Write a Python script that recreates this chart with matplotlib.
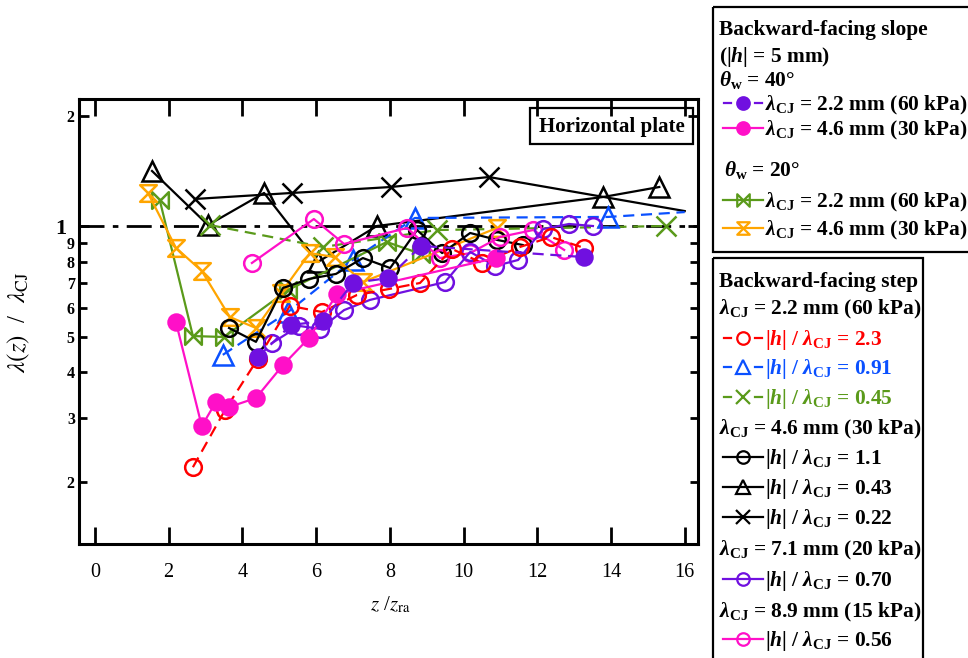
import numpy as np
import matplotlib.pyplot as plt
from matplotlib.path import Path
from matplotlib.patches import Rectangle

plt.rcParams['font.family'] = 'Liberation Serif'
plt.rcParams['mathtext.fontset'] = 'custom'
plt.rcParams['mathtext.rm'] = 'Liberation Serif:bold'
plt.rcParams['mathtext.it'] = 'Liberation Serif:italic:bold'
plt.rcParams['mathtext.bf'] = 'Liberation Serif:bold'

W, H = 968, 658

# --- backward-facing step, lambda_CJ = 2.2 mm (60 kPa) ---
s23_x = [2.66, 3.53, 4.42, 5.29, 6.16, 7.11, 7.98, 8.82, 9.69, 10.50, 11.53, 12.37, 13.27]
s23_y = [0.220, 0.315, 0.435, 0.607, 0.584, 0.650, 0.675, 0.701, 0.868, 0.795, 0.879, 0.936, 0.874]
s091_x = [3.47, 5.24, 7.00, 8.68, 13.92, 16.0]
s091_y = [0.446, 0.584, 0.810, 1.055, 1.062, 1.095]
s045_x = [3.12, 6.19, 9.28, 15.50]
s045_y = [1.009, 0.879, 0.978, 1.003]
# --- lambda_CJ = 4.6 mm (30 kPa) ---
s11_x = [3.64, 4.37, 5.10, 5.81, 6.54, 7.27, 8.01, 8.74, 9.42, 10.18, 10.91, 11.61]
s11_y = [0.528, 0.484, 0.679, 0.719, 0.742, 0.820, 0.770, 0.978, 0.846, 0.960, 0.919, 0.890]
s043_x = [1.55, 3.07, 4.59, 6.05, 7.65, 13.79, 15.31]
s043_y = [1.418, 1.009, 1.235, 0.800, 1.003, 1.204, 1.282]
s022_x = [2.71, 5.35, 8.03, 10.69, 16.0]
s022_y = [1.189, 1.235, 1.282, 1.365, 1.102]
# --- lambda_CJ = 7.1 mm (20 kPa) ---
s070_x = [4.80, 5.54, 6.11, 6.76, 7.46, 9.50, 10.18, 10.86, 11.48, 12.16, 12.86, 13.51]
s070_y = [0.480, 0.535, 0.525, 0.591, 0.630, 0.705, 0.852, 0.780, 0.810, 0.984, 1.016, 1.003]
# --- lambda_CJ = 8.9 mm (15 kPa) ---
s056_x = [4.26, 5.94, 6.76, 8.47, 9.36, 10.18, 10.99, 11.89, 12.73]
s056_y = [0.795, 1.048, 0.896, 0.991, 0.820, 0.846, 0.936, 0.978, 0.863]

# --- backward-facing slope, |h| = 5 mm ---
p40a_x = [4.42, 5.32, 6.19, 7.00, 7.95, 8.85, 13.27]
p40a_y = [0.440, 0.538, 0.552, 0.701, 0.723, 0.885, 0.825]
p40b_x = [2.20, 2.90, 3.28, 3.64, 4.37, 5.10, 5.81, 6.57, 10.88]
p40b_y = [0.548, 0.285, 0.331, 0.321, 0.340, 0.418, 0.496, 0.654, 0.820]
p20a_x = [1.76, 2.66, 3.50, 5.24, 7.92, 8.85]
p20a_y = [1.181, 0.502, 0.499, 0.671, 0.907, 0.841]
p20b_x = [1.44, 2.20, 2.90, 3.66, 4.37, 5.05, 5.83, 6.51, 7.27, 10.91]
p20b_y = [1.235, 0.874, 0.756, 0.566, 0.528, 0.658, 0.846, 0.825, 0.705, 0.991]

RED = '#ff0000'
BLUE = '#0a50ff'
GREEN = '#5a9a1a'
ORANGE = '#ffa500'
PURPLE = '#7010e0'
MAGENTA = '#ff10c8'

bowtie = Path([(-1, -1), (0, 0), (-1, 1), (-1, -1), (1, -1), (0, 0), (1, 1), (1, -1)],
              [1, 2, 2, 79, 1, 2, 2, 79])
hourglass = Path([(-1, 1), (1, 1), (0, 0), (-1, 1), (-1, -1), (1, -1), (0, 0), (-1, -1)],
                 [1, 2, 2, 79, 1, 2, 2, 79])
DASH = (0, (5, 3))

fig = plt.figure(figsize=(W / 100, H / 100), dpi=100)
ax = fig.add_axes([79 / W, 1 - 544 / H, 619 / W, 445 / H])


def series(x, y, color, marker, ls='-', filled=False, ms=12, skip_last=False):
    n = len(x)
    every = list(range(n - 1)) if skip_last else None
    ax.plot(x, y, color=color, lw=1.6, ls=ls, marker=marker, ms=ms,
            mfc=color if filled else 'none', mec=color, mew=1.8, markevery=every)


ax.axhline(1.0, color='black', lw=2, ls=(0, (9, 3, 2, 3)), zorder=1)

series(s043_x, s043_y, 'black', '^', ms=14)
series(s022_x, s022_y, 'black', 'x', ms=14, skip_last=True)
series(s045_x, s045_y, GREEN, 'x', ls=DASH, ms=14)
series(s091_x, s091_y, BLUE, '^', ls=DASH, ms=14, skip_last=True)
series(p20a_x, p20a_y, GREEN, bowtie, ms=12)
series(p20b_x, p20b_y, ORANGE, hourglass, ms=12)
series(s11_x, s11_y, 'black', 'o', ms=12)
series(s056_x, s056_y, MAGENTA, 'o', ms=12)
series(s070_x, s070_y, PURPLE, 'o', ms=12)
series(s23_x, s23_y, RED, 'o', ls=DASH, ms=12)
series(p40b_x, p40b_y, MAGENTA, 'o', filled=True, ms=11.5)
series(p40a_x, p40a_y, PURPLE, 'o', ls=DASH, filled=True, ms=11.5)

ax.set_yscale('log')
ax.set_xlim(-0.43, 16.36)
ax.set_ylim(0.1357, 2.23)
ax.set_xticks(np.arange(0, 17, 2))
ax.set_xticklabels([str(v) for v in range(0, 17, 2)], fontsize=14.5)
ax.xaxis.set_minor_locator(plt.NullLocator())
ax.set_yticks([1, 2])
lbls = ax.set_yticklabels(['1', '2'], fontweight='bold', fontsize=11.5)
lbls[0].set_fontsize(16)
ax.set_yticks([0.2, 0.3, 0.4, 0.5, 0.6, 0.7, 0.8, 0.9], minor=True)
ax.set_yticklabels(['2', '3', '4', '5', '6', '7', '8', '9'], minor=True,
                   fontweight='bold', fontsize=11.5)
ax.tick_params(axis='x', which='major', direction='in', length=12, width=2,
               top=True, pad=14)
ax.tick_params(axis='y', which='major', direction='in', length=7, width=2,
               right=True, pad=3)
ax.tick_params(axis='y', which='minor', direction='in', length=6, width=2,
               right=True, pad=3)
ax.yaxis.get_major_ticks()[0].set_pad(9)
for sp in ax.spines.values():
    sp.set_linewidth(2.2)

ax.set_xlabel(r'$z$ /$z_{\rm ra}$', fontsize=15, math_fontfamily='stix')
ax.xaxis.set_label_coords((390 - 79) / 619, (544 - 605) / 445)
ax.xaxis.label.set_va('center')
ax.set_ylabel(r'$\lambda(z)$  /  $\lambda_{\rm CJ}$', fontsize=18, math_fontfamily='stix')
ax.yaxis.set_label_coords((19 - 79) / 619, (544 - 322) / 445)
ax.yaxis.label.set_va('center')

# overlay in pixel coordinates for the boxes and legends
ov = fig.add_axes([0, 0, 1, 1])
ov.set_xlim(0, W)
ov.set_ylim(H, 0)
ov.axis('off')

ov.add_patch(Rectangle((530, 108), 163, 36, fill=False, lw=1.6, ec='black'))
ov.text(611.5, 127, 'Horizontal plate', ha='center', va='center',
        fontsize=15, fontweight='bold')

FS = 15.4


def handle(y, color, marker, dashed=False, filled=False, ms=9):
    if dashed:
        ov.plot([724, 731], [y, y], color=color, lw=1.6)
        ov.plot([755, 762], [y, y], color=color, lw=1.6)
    else:
        ov.plot([723, 763], [y, y], color=color, lw=1.6)
    ov.plot([743], [y], marker=marker, ms=ms, color=color,
            mfc=color if filled else 'none', mec=color, mew=1.6)


def row(x, y, s, color='black'):
    ov.text(x, y, s, ha='left', va='baseline', fontsize=FS, fontweight='bold', color=color)


LCJ = r'$\lambda_{\rm CJ}$'
HL = r'|$h$| / ' + LCJ

# upper legend: backward-facing slope
ov.add_patch(Rectangle((713, 7), 270, 245, fill=False, lw=1.6, ec='black'))
row(719, 35, 'Backward-facing slope')
row(719, 62, r'(|$h$| = 5 mm)')
row(719, 86, r'$\theta_{\rm w}$ = 40°')
handle(103, PURPLE, 'o', dashed=True, filled=True)
row(765, 110, LCJ + ' = 2.2 mm (60 kPa)')
handle(128, MAGENTA, 'o', filled=True)
row(765, 135, LCJ + ' = 4.6 mm (30 kPa)')
row(724, 176, r'$\theta_{\rm w}$ = 20°')
handle(200, GREEN, bowtie)
row(765, 207, LCJ + ' = 2.2 mm (60 kPa)')
handle(228, ORANGE, hourglass)
row(765, 235, LCJ + ' = 4.6 mm (30 kPa)')

# lower legend: backward-facing step
ov.add_patch(Rectangle((713, 258), 210, 420, fill=False, lw=1.6, ec='black'))
row(719, 287, 'Backward-facing step')
row(719, 314, LCJ + ' = 2.2 mm (60 kPa)')
handle(338, RED, 'o', dashed=True)
row(765, 345, HL + ' = 2.3', RED)
handle(367, BLUE, '^', dashed=True, ms=10)
row(765, 374, HL + ' = 0.91', BLUE)
handle(397, GREEN, 'x', dashed=True, ms=10)
row(765, 404, HL + ' = 0.45', GREEN)
row(719, 434, LCJ + ' = 4.6 mm (30 kPa)')
handle(457, 'black', 'o')
row(765, 464, HL + ' = 1.1')
handle(487, 'black', '^', ms=10)
row(765, 494, HL + ' = 0.43')
handle(517, 'black', 'x', ms=10)
row(765, 524, HL + ' = 0.22')
row(719, 555, LCJ + ' = 7.1 mm (20 kPa)')
handle(579, PURPLE, 'o')
row(765, 586, HL + ' = 0.70')
row(719, 617, LCJ + ' = 8.9 mm (15 kPa)')
handle(639, MAGENTA, 'o')
row(765, 646, HL + ' = 0.56')

fig.savefig('out.png', dpi=100)
